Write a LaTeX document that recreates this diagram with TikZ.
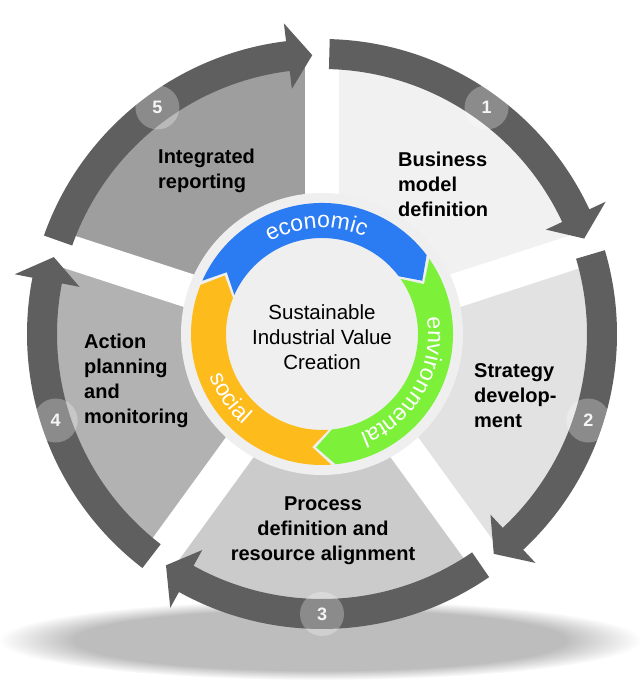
\documentclass[tikz,border=0pt]{standalone}
\usepackage{fontspec}
\setmainfont{Liberation Sans}
\usetikzlibrary{decorations.text}
\definecolor{ringc}{HTML}{5F5F5F}
\definecolor{secA}{HTML}{F1F1F1}
\definecolor{secB}{HTML}{E2E2E2}
\definecolor{secC}{HTML}{CBCBCB}
\definecolor{secD}{HTML}{B2B2B2}
\definecolor{secE}{HTML}{9E9E9E}
\definecolor{discc}{HTML}{EFEFEF}
\definecolor{ecoc}{HTML}{2B7BF2}
\definecolor{envc}{HTML}{7DF03A}
\definecolor{socc}{HTML}{FDBC1C}
\definecolor{shadc}{HTML}{BDBDBD}
\pgfdeclareradialshading{floorshadow}{\pgfpoint{0bp}{0bp}}{color(0bp)=(shadc); color(19bp)=(shadc); color(25bp)=(white); color(50bp)=(white)}
\newcommand\chevseg[3]{%
  \fill[#1] (#2:131) arc[start angle=#2, end angle=#3, radius=131]
    -- ({#3-9}:113.5) -- (#3:96) arc[start angle=#3, end angle=#2, radius=96]
    -- ({#2-9}:113.5) -- cycle;}
\begin{document}
\begin{tikzpicture}[x=1pt,y=1pt,
  lab/.style={font=\bfseries\fontsize{20}{25}\selectfont, inner sep=0pt, text=black},
  badge/.style={circle, fill=white, fill opacity=0.28, text opacity=0.92, text=white,
    minimum size=44pt, inner sep=0pt, font=\bfseries\fontsize{18}{18}\selectfont},
  ringtext/.style={decorate, decoration={text along path, text align=center,
    text={|\color{white}\fontsize{23}{23}\selectfont|#1}}}]
\useasboundingbox (0,0) rectangle (640,692);
% floor shadow
\shade[shading=floorshadow] (320,52) ellipse[x radius=322, y radius=40];
\begin{scope}[shift={(322,358)}]
  % sectors
  \fill[secA] (0,0) -- (18:270) arc[start angle=18, end angle=90, radius=270] -- cycle;
  \fill[secB] (0,0) -- (-54:270) arc[start angle=-54, end angle=18, radius=270] -- cycle;
  \fill[secC] (0,0) -- (-126:270) arc[start angle=-126, end angle=-54, radius=270] -- cycle;
  \fill[secD] (0,0) -- (162:270) arc[start angle=162, end angle=234, radius=270] -- cycle;
  \fill[secE] (0,0) -- (90:270) arc[start angle=90, end angle=162, radius=270] -- cycle;
  % white gaps
  \foreach \g in {90,18,-54,-126,162}
    \draw[white, line width=34pt] (0,0) -- (\g:271);
  % outer ring arrows
  \foreach \g in {90,18,-54,-126,-198} {
    \pgfmathsetmacro\sa{\g-1.5}
    \pgfmathsetmacro\ba{\g-72+7}
    \pgfmathsetmacro\ta{\g-72+2}
    \fill[ringc] (\sa:295) arc[start angle=\sa, end angle=\ba, radius=295]
      -- (\ba:313) -- (\ta:279) -- (\ba:247) -- (\ba:265)
      arc[start angle=\ba, end angle=\sa, radius=265] -- cycle;
  }
  % inner disc
  \fill[discc] (0,0) circle[radius=141];
  % colored cycle
  \chevseg{ecoc}{156}{37}
  \chevseg{envc}{35}{-84}
  \chevseg{socc}{-86}{-202}
  \path[ringtext=economic] (152:106) arc[start angle=152, end angle=34, radius=106];
  \path[ringtext=environmental] (30:106) arc[start angle=30, end angle=-90, radius=106];
  \path[ringtext=social] (180:120) arc[start angle=180, end angle=250, radius=120];
  % badges
  \node[badge] (b1) at (54:280) {1};
  \node[badge] (b2) at (-18:280) {2};
  \node[badge] (b3) at (-90:280) {3};
  \node[badge] (b4) at (-162:280) {4};
  \node[badge] (b5) at (126:280) {5};
\end{scope}
% labels
\node[lab, anchor=west, align=left] (l5) at (158,521) {Integrated\\reporting};
\node[lab, anchor=west, align=left] (l1) at (398,508) {Business\\model\\definition};
\node[lab, anchor=west, align=left] (l2) at (474,296) {Strategy\\develop-\\ment};
\node[lab, align=center] (l3) at (323,161) {Process\\definition and\\resource alignment};
\node[lab, anchor=west, align=left] (l4) at (84,311) {Action\\planning\\and\\monitoring};
\node[font=\fontsize{20.5}{25}\selectfont, align=center, inner sep=0pt] (ctr) at (322,355)
  {Sustainable\\Industrial Value\\Creation};
\end{tikzpicture}
\end{document}
